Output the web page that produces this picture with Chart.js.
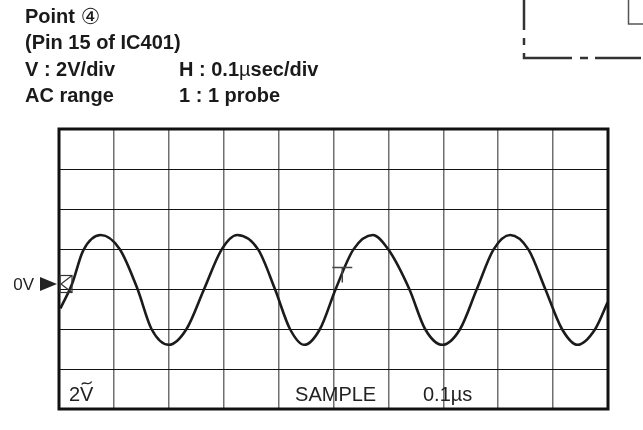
<!DOCTYPE html>
<html>
<head>
<meta charset="utf-8">
<script src="https://cdn.jsdelivr.net/npm/chart.js@4.4.1/dist/chart.umd.min.js"></script>
<style>
  html, body { margin: 0; padding: 0; background: #fff; }
  canvas { display: block; }
</style>
</head>
<body>
<canvas id="scope" width="643" height="430"></canvas>
<script>
// waveform: time in microseconds, level in volts
const timeUs = [0.0026, 0.0237, 0.0438, 0.0760, 0.1107, 0.1430, 0.1685, 0.2000, 0.2323, 0.2644,
  0.2961, 0.3246, 0.3629, 0.3933, 0.4207, 0.4468, 0.4754, 0.5040, 0.5361, 0.5715,
  0.6000, 0.6380, 0.6668, 0.6984, 0.7307, 0.7611, 0.7914, 0.8218, 0.8552, 0.8857,
  0.9161, 0.9446, 0.9768, 0.9993];
const volts = [-0.97, 0.25, 1.91, 2.70, 1.99, 0.00, -2.00, -2.79, -2.00, 0.00,
  1.97, 2.70, 1.97, 0.00, -2.00, -2.79, -2.00, 0.00, 1.97, 2.70,
  1.97, 0.00, -2.00, -2.79, -2.00, 0.00, 1.97, 2.70, 1.97, 0.00,
  -2.00, -2.79, -2.00, -0.67];

// screen: 10 x 0.1us, 7 x 2V (0V on the 4th line from the top)
const xRange = [0, 1];
const yRange = [-6, 8];
const xStep = 0.1;
const yStep = 2;

const triggerTime = 0.516;
const triggerLevel = 1.08;

const headerLines = [
  [['Point ', 'b'], ['\u2463', 'c']],
  [['(Pin 15 of IC401)', 'b']],
  [['V : 2V/div', 'b']],
  [['AC range', 'b']]
];
const headerRight = [null, null, [['H : 0.1', 'b'], ['\u00b5', 'r'], ['sec/div', 'b']], [['1 : 1 probe', 'b']]];

function drawRuns(ctx, runs, x, y) {
  runs.forEach(([txt, kind]) => {
    if (kind === 'b') ctx.font = 'bold 20px "Liberation Sans", Arial, sans-serif';
    else if (kind === 'r') ctx.font = '20px "Liberation Sans", Arial, sans-serif';
    else ctx.font = '22px "DejaVu Sans", "Noto Sans CJK JP", sans-serif';
    ctx.fillText(txt, x, y + (kind === 'c' ? 1 : 0));
    x += ctx.measureText(txt).width;
  });
}

const scopeDecor = {
  id: 'scopeDecor',
  afterDraw(chart) {
    const ctx = chart.ctx;
    const a = chart.chartArea;
    const xs = chart.scales.x, ys = chart.scales.y;
    ctx.save();

    // frame
    ctx.strokeStyle = '#111';
    ctx.lineWidth = 3;
    ctx.strokeRect(a.left, a.top, a.right - a.left, a.bottom - a.top);

    // header text
    ctx.fillStyle = '#1a1a1a';
    ctx.textBaseline = 'alphabetic';
    ctx.textAlign = 'left';
    const base = [23, 49, 76, 102];
    headerLines.forEach((runs, i) => drawRuns(ctx, runs, 25, base[i]));
    headerRight.forEach((runs, i) => { if (runs) drawRuns(ctx, runs, 179, base[i]); });

    // 0V marker
    const y0 = ys.getPixelForValue(0) - 5;
    ctx.font = '17px "Liberation Sans", Arial, sans-serif';
    ctx.textAlign = 'right';
    ctx.fillStyle = '#222';
    ctx.fillText('0V', a.left - 25, y0 + 6);
    ctx.beginPath();
    ctx.moveTo(a.left - 19, y0 - 7);
    ctx.lineTo(a.left - 2, y0);
    ctx.lineTo(a.left - 19, y0 + 7);
    ctx.closePath();
    ctx.fill();
    ctx.lineWidth = 1.2;
    ctx.strokeStyle = '#333';
    ctx.strokeRect(a.left + 1, y0 - 8.5, 12, 17);
    ctx.beginPath();
    ctx.moveTo(a.left + 13, y0 - 8.5);
    ctx.lineTo(a.left + 2, y0);
    ctx.lineTo(a.left + 13, y0 + 8.5);
    ctx.stroke();

    // trigger mark
    const tx = xs.getPixelForValue(triggerTime);
    const ty = ys.getPixelForValue(triggerLevel);
    ctx.lineWidth = 1.5;
    ctx.strokeStyle = '#444';
    ctx.beginPath();
    ctx.moveTo(tx - 10, ty);
    ctx.lineTo(tx + 10, ty);
    ctx.moveTo(tx, ty);
    ctx.lineTo(tx, ty + 15);
    ctx.stroke();

    // bottom row readouts
    ctx.textAlign = 'left';
    ctx.font = '20px "Liberation Sans", Arial, sans-serif';
    ctx.fillStyle = '#222';
    const by = ys.getPixelForValue(yRange[0]) - 8;
    const vx = xs.getPixelForValue(0.018);
    ctx.fillText('2V', vx, by);
    const vw = ctx.measureText('V').width;
    const tw = ctx.measureText('2').width;
    // tilde over the V (AC coupling)
    ctx.lineWidth = 1.3;
    ctx.strokeStyle = '#222';
    ctx.beginPath();
    const cx = vx + tw + vw / 2, cy = by - 18;
    ctx.moveTo(cx - 5, cy + 1.5);
    ctx.bezierCurveTo(cx - 2.5, cy - 3, cx + 2.5, cy + 4, cx + 5, cy - 1.5);
    ctx.stroke();
    ctx.fillText('SAMPLE', xs.getPixelForValue(0.43), by);
    ctx.fillText('0.1\u00b5s', xs.getPixelForValue(0.663), by);

    // corner of the neighbouring figure (top right)
    ctx.strokeStyle = '#333';
    ctx.lineWidth = 2.5;
    ctx.beginPath();
    ctx.moveTo(524, 0); ctx.lineTo(524, 30);
    ctx.moveTo(524, 38); ctx.lineTo(524, 45);
    ctx.moveTo(524, 53); ctx.lineTo(524, 58); ctx.lineTo(572, 58);
    ctx.moveTo(580, 58); ctx.lineTo(588, 58);
    ctx.moveTo(595, 58); ctx.lineTo(641, 58);
    ctx.stroke();
    ctx.lineWidth = 1.5;
    ctx.strokeStyle = '#555';
    ctx.beginPath();
    ctx.moveTo(628.5, 0); ctx.lineTo(628.5, 24); ctx.lineTo(643, 24);
    ctx.stroke();
    ctx.restore();
  }
};

new Chart(document.getElementById('scope').getContext('2d'), {
  type: 'line',
  data: {
    datasets: [{
      data: timeUs.map((t, i) => ({ x: t, y: volts[i] })),
      borderColor: '#1b1b1b',
      borderWidth: 2.6,
      pointRadius: 0,
      fill: false,
      cubicInterpolationMode: 'monotone'
    }]
  },
  options: {
    responsive: false,
    animation: false,
    devicePixelRatio: 1,
    layout: { padding: { left: 59, top: 129, right: 35, bottom: 21 } },
    plugins: { legend: { display: false }, tooltip: { enabled: false } },
    scales: {
      x: {
        type: 'linear', min: xRange[0], max: xRange[1],
        ticks: { display: false, stepSize: xStep },
        grid: { color: '#707070', lineWidth: 1.5, drawTicks: false },
        border: { display: false }
      },
      y: {
        type: 'linear', min: yRange[0], max: yRange[1],
        ticks: { display: false, stepSize: yStep },
        grid: { color: '#111', lineWidth: 1, drawTicks: false },
        border: { display: false }
      }
    }
  },
  plugins: [scopeDecor]
});
</script>
</body>
</html>
